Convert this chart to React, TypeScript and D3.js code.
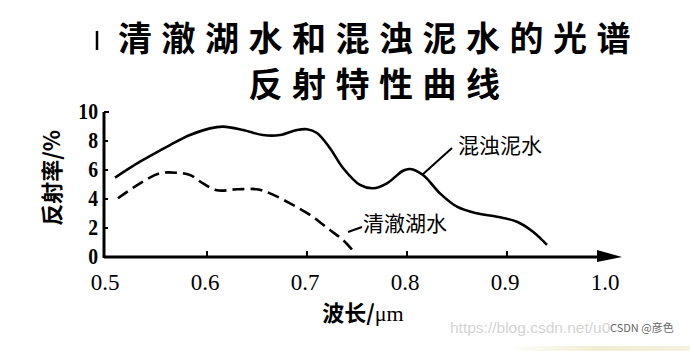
import React from 'react';
import * as d3 from 'd3';

// turbid (muddy) water curve
const turbidWave = [0.508, 0.533, 0.563, 0.583, 0.603, 0.616, 0.636, 0.656, 0.673, 0.69, 0.70, 0.71, 0.723, 0.736, 0.753, 0.766, 0.78, 0.796, 0.803, 0.816, 0.833, 0.85, 0.87, 0.89, 0.91, 0.926, 0.94];
const turbidRefl = [5.47, 6.57, 7.72, 8.41, 8.87, 8.99, 8.76, 8.41, 8.41, 8.76, 8.81, 8.55, 7.5, 6.14, 4.97, 4.74, 5.08, 5.95, 6.07, 5.66, 4.39, 3.47, 3.01, 2.78, 2.43, 1.74, 0.83];

// clear lake water curve
const clearWave = [0.511, 0.533, 0.553, 0.57, 0.583, 0.596, 0.61, 0.63, 0.65, 0.663, 0.683, 0.703, 0.723, 0.736, 0.748];
const clearRefl = [4.05, 5.08, 5.77, 5.81, 5.66, 5.08, 4.6, 4.67, 4.67, 4.39, 3.70, 2.90, 1.86, 1.17, 0.28];

const xTicks = [0.5, 0.6, 0.7, 0.8, 0.9, 1.0];
const yTicks = [0, 2, 4, 6, 8, 10];

const titleLines = ['清澈湖水和混浊泥水的光谱', '反射特性曲线'];
const seriesNames = ['混浊泥水', '清澈湖水'];

const W = 690;
const H = 351;

const App: React.FC = () => {
  const x = d3.scaleLinear().domain([0.5, 1.0]).range([107, 607]);
  const y = d3.scaleLinear().domain([0, 10]).range([257, 112]);

  const line = d3.line<[number, number]>()
    .x(d => x(d[0]))
    .y(d => y(d[1]))
    .curve(d3.curveCatmullRom.alpha(0.5));

  const turbid = turbidWave.map((w, i) => [w, turbidRefl[i]] as [number, number]);
  const clear = clearWave.map((w, i) => [w, clearRefl[i]] as [number, number]);

  const axisX = 104;
  const axisY = y(0);
  const cjk = '"Noto Sans CJK SC", sans-serif';
  const serif = '"Liberation Serif", serif';

  return (
    <svg width={W} height={H} style={{ position: 'absolute', left: 0, top: 0, background: '#fff' }}>
      <defs>
        <linearGradient id="strip" x1="0" x2="1">
          <stop offset="0" stopColor="#fff" />
          <stop offset="0.5" stopColor="#efedd2" />
          <stop offset="1" stopColor="#f4f2e0" />
        </linearGradient>
      </defs>

      {/* title */}
      <line x1={97} x2={97} y1={31} y2={50} stroke="#000" strokeWidth={2.5} />
      {titleLines.map((t, i) => (
        <text key={t} x={374 + 5} y={i === 0 ? 51 : 97} textAnchor="middle"
          fontFamily={cjk} fontWeight="bold" fontSize={34} letterSpacing={9.5} fill="#000">{t}</text>
      ))}

      {/* y axis */}
      <line x1={axisX} x2={axisX} y1={y(10)} y2={axisY + 1} stroke="#000" strokeWidth={3} />
      <line x1={axisX} x2={axisX + 5} y1={y(10)} y2={y(10)} stroke="#000" strokeWidth={2} />
      {yTicks.slice(1, -1).map(t => (
        <line key={t} x1={axisX} x2={axisX + 4} y1={y(t)} y2={y(t)} stroke="#000" strokeWidth={2} />
      ))}
      {yTicks.map(t => (
        <text key={t} transform={`translate(${axisX - 6},${y(t) + (t === 0 ? 7 : 7)}) scale(0.82,1)`} textAnchor="end"
          fontFamily={serif} fontSize={24} fontWeight="bold" fill="#000">{t}</text>
      ))}
      <text transform={`translate(60,178) rotate(-90)`} textAnchor="middle"
        fontFamily={cjk} fontWeight="bold" fontSize={22} fill="#000">反射率/%</text>

      {/* x axis with arrow */}
      <line x1={axisX} x2={608} y1={axisY} y2={axisY} stroke="#000" strokeWidth={3} />
      <path d={`M${x(0.99)},${axisY - 7} L${x(1.0) + 15},${axisY} L${x(0.99)},${axisY + 5} Z`} fill="#000" />
      {xTicks.slice(1, -1).map(t => (
        <line key={t} x1={x(t)} x2={x(t)} y1={axisY} y2={axisY - 6} stroke="#000" strokeWidth={2} />
      ))}
      {xTicks.map(t => (
        <text key={t} x={x(t) - 2} y={axisY + 33} textAnchor="middle"
          fontFamily={serif} fontSize={23} fill="#000">{t.toFixed(1)}</text>
      ))}
      <text x={363} y={321} textAnchor="middle" fontFamily={cjk} fontWeight="bold" fontSize={22} fill="#000">
        波长/<tspan fontFamily={serif} fontWeight="normal">μm</tspan>
      </text>

      {/* curves */}
      <path d={line(turbid) || ''} fill="none" stroke="#000" strokeWidth={2.6} />
      <path d={line(clear) || ''} fill="none" stroke="#000" strokeWidth={2.6} strokeDasharray="12 6" />

      {/* labels with leaders */}
      <line x1={x(0.815)} y1={y(5.66)} x2={452} y2={148} stroke="#000" strokeWidth={2} />
      <text x={458} y={153} fontFamily={cjk} fontSize={21} fill="#000">{seriesNames[0]}</text>
      <line x1={348} y1={232} x2={362} y2={227} stroke="#000" strokeWidth={2} />
      <text x={363} y={231} fontFamily={cjk} fontSize={21} fill="#000">{seriesNames[1]}</text>

      {/* watermark */}
      <rect x={507} y={346} width={183} height={5} fill="url(#strip)" />
      <text x={450} y={333} fontFamily='"Liberation Sans", sans-serif' fontSize={15.5} fill="#d4d4d4">https://blog.csdn.net/u0</text>
      <text x={610} y={332} fontFamily={cjk} fontSize={11} fill="#666">CSDN @彦色</text>
    </svg>
  );
};

export default App;
